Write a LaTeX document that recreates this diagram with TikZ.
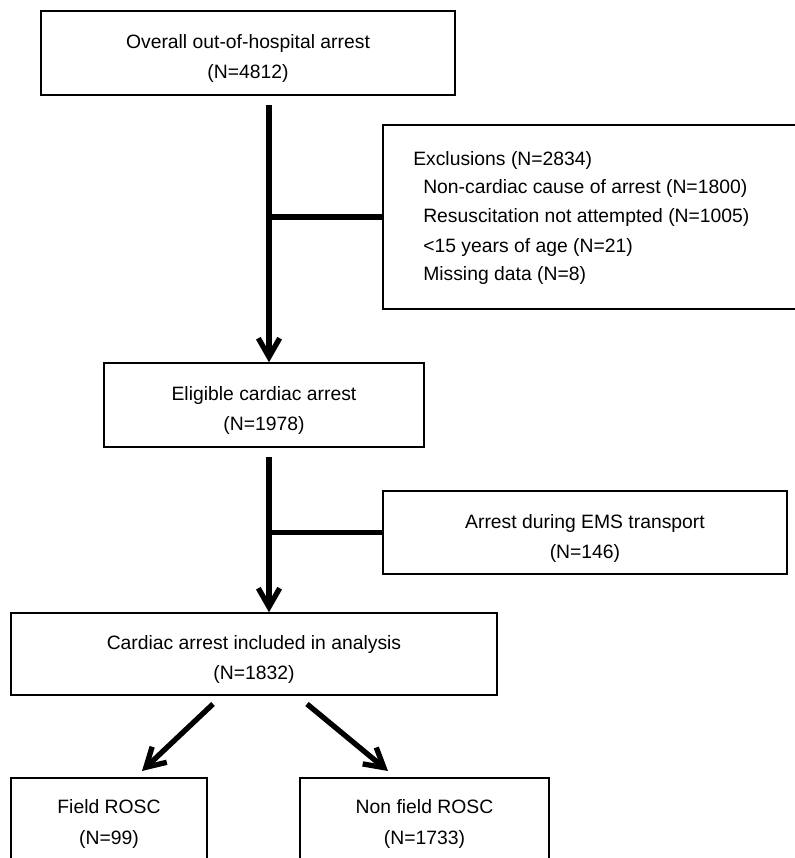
\documentclass[tikz,border=0pt]{standalone}
\usepackage{fontspec}
\setmainfont{Liberation Sans}
\usetikzlibrary{arrows.meta,positioning}

\begin{document}
\begin{tikzpicture}[x=0.75pt,y=-0.75pt,
  box/.style={draw,line width=1.1pt,inner sep=0pt},
  lbl/.style={draw=none,inner sep=0pt,align=center,font=\fontsize{14.5}{23}\selectfont},
  txt/.style={draw=none,inner sep=0pt,anchor=west,font=\fontsize{14.5}{22}\selectfont},
  flow/.style={line width=4pt,-{Straight Barb[length=14pt,width=16pt]}},
  branch/.style={line width=4pt}]
\useasboundingbox (0,0) rectangle (795,858);
\clip (0,0) rectangle (795,858);

\path (248,53) node[box,minimum width=310.5pt,minimum height=63pt] (overall) {};
\path ([yshift=-4pt]overall.center) node[lbl] (overallT) {Overall out-of-hospital arrest\\(N=4812)};

\path (594,217) node[box,minimum width=316.5pt,minimum height=138pt] (excl) {};
\path (413,160) node[txt] (ex0) {Exclusions (N=2834)};
\path (423,188) node[txt] (ex1) {Non-cardiac cause of arrest (N=1800)};
\path (423,217) node[txt] (ex2) {Resuscitation not attempted (N=1005)};
\path (423,247) node[txt] (ex3) {<15 years of age (N=21)};
\path (423,275) node[txt] (ex4) {Missing data (N=8)};

\path (264,405) node[box,minimum width=240pt,minimum height=63pt] (eligible) {};
\path ([yshift=-4pt]eligible.center) node[lbl] (eligibleT) {Eligible cardiac arrest\\(N=1978)};

\path (585,532.5) node[box,minimum width=303pt,minimum height=62.25pt] (ems) {};
\path ([yshift=-4.5pt]ems.center) node[lbl] (emsT) {Arrest during EMS transport\\(N=146)};

\path (254,654) node[box,minimum width=364.5pt,minimum height=61.5pt] (incl) {};
\path ([yshift=-4pt]incl.center) node[lbl] (inclT) {Cardiac arrest included in analysis\\(N=1832)};

\path (109,820) node[box,minimum width=147pt,minimum height=63pt] (field) {};
\path ([yshift=-3pt]field.center) node[lbl] (fieldT) {Field ROSC\\(N=99)};

\path (424.5,820) node[box,minimum width=186.75pt,minimum height=63pt] (nonfield) {};
\path ([yshift=-3pt]nonfield.center) node[lbl] (nonfieldT) {Non field ROSC\\(N=1733)};

\coordinate (a1) at (269,105);
\coordinate (a2) at (269,457);
\coordinate (d1) at (213,704);
\coordinate (d2) at (307,704);
\coordinate (e1) at (142,771);
\coordinate (e2) at (388,771);

\draw[flow] (a1) -- (a1 |- eligible.north);
\draw[branch] (a1 |- excl.west) -- (excl.west);
\draw[flow] (a2) -- (a2 |- incl.north);
\draw[branch] (a2 |- ems.west) -- (ems.west);
\draw[flow] (d1) -- (e1);
\draw[flow] (d2) -- (e2);

\end{tikzpicture}
\end{document}
